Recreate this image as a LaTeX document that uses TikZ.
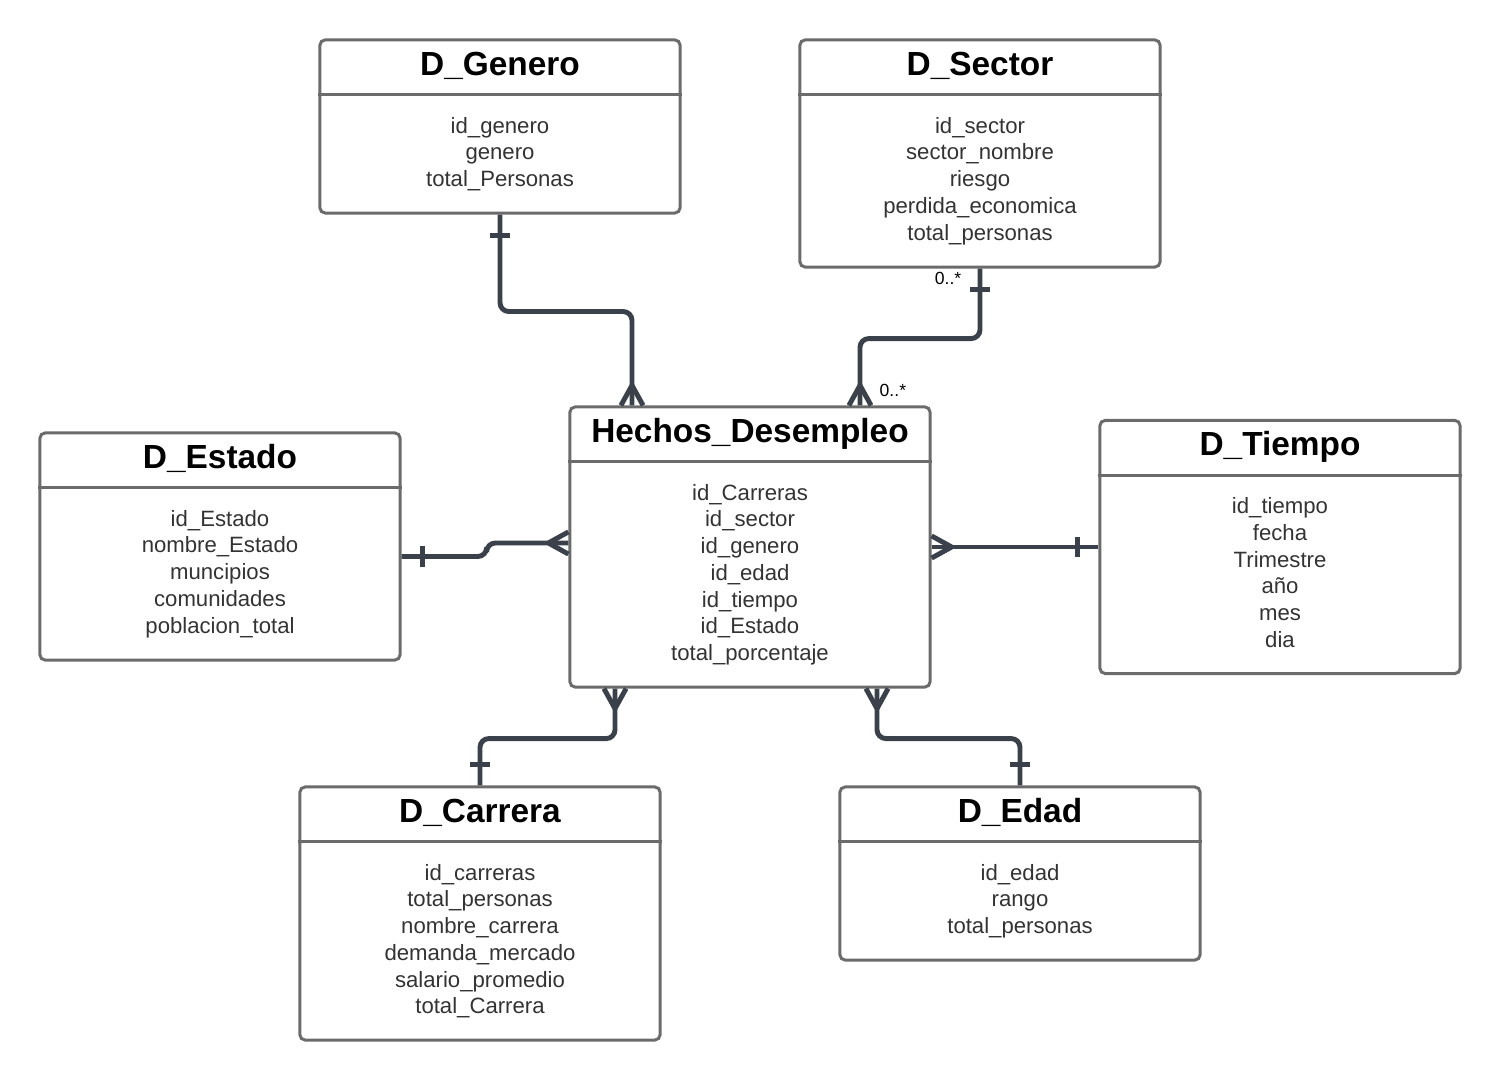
\documentclass[tikz,border=0pt]{standalone}
\usepackage{fontspec}
\setmainfont{Liberation Sans}
\usetikzlibrary{arrows.meta,calc}

\definecolor{borde}{HTML}{6B6B6B}
\definecolor{enlace}{HTML}{3A414A}
\definecolor{texto}{HTML}{333333}

% pata de gallo (muchos)
\pgfdeclarearrow{
  name = pata,
  parameters = {\the\pgfarrowlength,\the\pgfarrowwidth},
  setup code = {
    \pgfarrowssettipend{0pt}
    \pgfarrowssetlineend{0pt}
    \pgfarrowssetbackend{-\pgfarrowlength}
    \pgfarrowssavethe\pgfarrowlength
    \pgfarrowssavethe\pgfarrowwidth
  },
  drawing code = {
    \pgfsetdash{}{0pt}
    \pgfsetroundjoin
    \pgfsetbuttcap
    \pgfpathmoveto{\pgfqpoint{0pt}{.5\pgfarrowwidth}}
    \pgfpathlineto{\pgfqpoint{-\pgfarrowlength}{0pt}}
    \pgfpathlineto{\pgfqpoint{0pt}{-.5\pgfarrowwidth}}
    \pgfusepathqstroke
  },
  defaults = {length=5.7pt, width=6.3pt}
}

% barra (uno)
\pgfdeclarearrow{
  name = uno,
  parameters = {\the\pgfarrowlength,\the\pgfarrowwidth},
  setup code = {
    \pgfarrowssettipend{0pt}
    \pgfarrowssetlineend{0pt}
    \pgfarrowssetbackend{-\pgfarrowlength}
    \pgfarrowssavethe\pgfarrowlength
    \pgfarrowssavethe\pgfarrowwidth
  },
  drawing code = {
    \pgfsetdash{}{0pt}
    \pgfsetbuttcap
    \pgfpathmoveto{\pgfqpoint{-\pgfarrowlength}{.5\pgfarrowwidth}}
    \pgfpathlineto{\pgfqpoint{-\pgfarrowlength}{-.5\pgfarrowwidth}}
    \pgfusepathqstroke
  },
  defaults = {length=6pt, width=5.7pt}
}

\tikzset{
  tabla/.style={draw=borde, line width=0.85pt, rounded corners=1.5pt, minimum width=3.6cm, inner sep=0pt},
  titulo/.style={font=\fontsize{9.5}{11}\selectfont\bfseries, inner sep=0pt, anchor=base},
  campos/.style={font=\fontsize{6.3}{7.6}\selectfont, text=texto, align=center, inner sep=0pt, anchor=north},
  division/.style={draw=borde, line width=0.85pt},
  relacion/.style={draw=enlace, line width=1.4pt, rounded corners=2.5pt},
  mult/.style={font=\fontsize{5}{6}\selectfont, inner sep=0pt}
}

\begin{document}
\begin{tikzpicture}[x=0.01cm, y=-0.01cm]
  \useasboundingbox (0,0) rectangle (1500,1080);

  % tabla de hechos
  \node[tabla, minimum height=2.8cm] (hechos) at (750,547) {};
  \node[titulo] (hechosT) at ($(hechos.north)+(0,37)$) {Hechos\_Desempleo};
  \draw[division] ($(hechos.north west)+(0,56.5)$) -- ($(hechos.north east)+(0,56.5)$);
  \node[campos] (hechosC) at ($(hechos.north)+(0,78)$)
    {id\_Carreras\\id\_sector\\id\_genero\\id\_edad\\id\_tiempo\\id\_Estado\\total\_porcentaje};

  % dimensiones
  \node[tabla, minimum height=1.73cm] (genero) at (500,126.5) {};
  \node[titulo] (generoT) at ($(genero.north)+(0,37)$) {D\_Genero};
  \draw[division] ($(genero.north west)+(0,56.5)$) -- ($(genero.north east)+(0,56.5)$);
  \node[campos] (generoC) at ($(genero.north)+(0,78)$)
    {id\_genero\\genero\\total\_Personas};

  \node[tabla, minimum height=2.27cm] (sector) at (980,153.5) {};
  \node[titulo] (sectorT) at ($(sector.north)+(0,37)$) {D\_Sector};
  \draw[division] ($(sector.north west)+(0,56.5)$) -- ($(sector.north east)+(0,56.5)$);
  \node[campos] (sectorC) at ($(sector.north)+(0,78)$)
    {id\_sector\\sector\_nombre\\riesgo\\perdida\_economica\\total\_personas};

  \node[tabla, minimum height=2.27cm] (estado) at (220,546.5) {};
  \node[titulo] (estadoT) at ($(estado.north)+(0,37)$) {D\_Estado};
  \draw[division] ($(estado.north west)+(0,56.5)$) -- ($(estado.north east)+(0,56.5)$);
  \node[campos] (estadoC) at ($(estado.north)+(0,78)$)
    {id\_Estado\\nombre\_Estado\\muncipios\\comunidades\\poblacion\_total};

  \node[tabla, minimum height=2.53cm] (tiempo) at (1280,547) {};
  \node[titulo] (tiempoT) at ($(tiempo.north)+(0,37)$) {D\_Tiempo};
  \draw[division] ($(tiempo.north west)+(0,56.5)$) -- ($(tiempo.north east)+(0,56.5)$);
  \node[campos] (tiempoC) at ($(tiempo.north)+(0,78)$)
    {id\_tiempo\\fecha\\Trimestre\\año\\mes\\dia};

  \node[tabla, minimum height=2.53cm] (carrera) at (480,913.5) {};
  \node[titulo] (carreraT) at ($(carrera.north)+(0,37)$) {D\_Carrera};
  \draw[division] ($(carrera.north west)+(0,56.5)$) -- ($(carrera.north east)+(0,56.5)$);
  \node[campos] (carreraC) at ($(carrera.north)+(0,78)$)
    {id\_carreras\\total\_personas\\nombre\_carrera\\demanda\_mercado\\salario\_promedio\\total\_Carrera};

  \node[tabla, minimum height=1.73cm] (edad) at (1020,873.5) {};
  \node[titulo] (edadT) at ($(edad.north)+(0,37)$) {D\_Edad};
  \draw[division] ($(edad.north west)+(0,56.5)$) -- ($(edad.north east)+(0,56.5)$);
  \node[campos] (edadC) at ($(edad.north)+(0,78)$)
    {id\_edad\\rango\\total\_personas};

  % relaciones
  \draw[relacion, {uno}-{pata}] (genero.south) -- ++(0,97) -| ($(hechos.north)+(-118,0)$);
  \draw[relacion, {uno}-{pata}] (sector.south) -- ++(0,70) -| ($(hechos.north)+(110,0)$);
  \draw[relacion, {uno}-{pata}] ($(estado.east)+(0,10)$) -- ++(85,0) |- ($(hechos.west)+(0,-4)$);
  \draw[relacion, {pata}-{uno}] (hechos.east) -- (tiempo.west);
  \draw[relacion, {pata}-{uno}] ($(hechos.south)+(-135,0)$) -- ++(0,50) -| (carrera.north);
  \draw[relacion, {pata}-{uno}] ($(hechos.south)+(127,0)$) -- ++(0,50) -| (edad.north);

  \node[mult, anchor=north east] (multS) at ($(sector.south)+(-18,3)$) {0..*};
  \node[mult, anchor=south west] (multH) at ($(hechos.north)+(129,-8)$) {0..*};
\end{tikzpicture}
\end{document}
